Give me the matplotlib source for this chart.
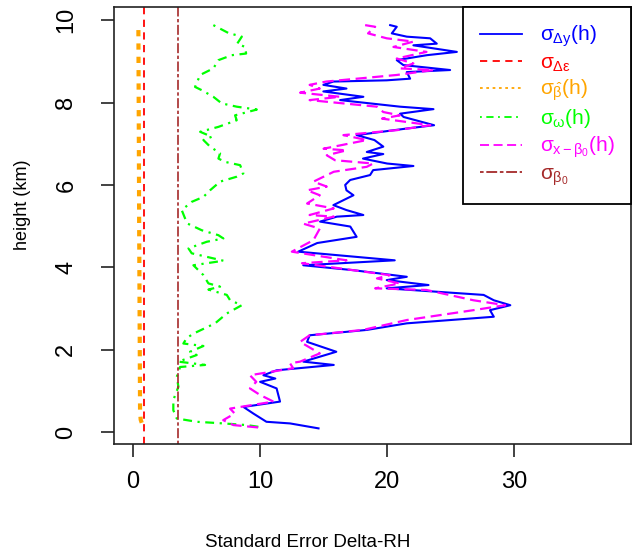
import numpy as np
import matplotlib
matplotlib.use("Agg")
from matplotlib import pyplot as plt
from matplotlib.lines import Line2D

plt.rcParams['font.family'] = ['Liberation Sans', 'DejaVu Sans']
plt.rcParams['mathtext.fontset'] = 'custom'
plt.rcParams['mathtext.rm'] = 'Liberation Sans'
plt.rcParams['mathtext.it'] = 'Liberation Sans'
plt.rcParams['mathtext.bf'] = 'Liberation Sans:bold'

# sigma_dy(h) -- blue solid
h_dy = [9.88, 9.84, 9.68, 9.60, 9.56, 9.43, 9.39, 9.23, 9.15, 9.03, 8.91, 8.79, 8.74,
        8.58, 8.54, 8.51, 8.43, 8.34, 8.27, 8.14, 8.06, 7.90, 7.84, 7.73, 7.65, 7.45,
        7.37, 7.21, 7.09, 6.93, 6.80, 6.75, 6.64, 6.52, 6.46, 6.36, 6.24, 6.12, 6.00,
        5.87, 5.75, 5.63, 5.51, 5.39, 5.27, 5.23, 5.11, 4.99, 4.74, 4.59, 4.38, 4.17,
        4.05, 3.93, 3.77, 3.69, 3.57, 3.49, 3.33, 3.20, 3.08, 2.96, 2.80, 2.64, 2.48,
        2.35, 2.19, 1.95, 1.71, 1.63, 1.50, 1.38, 1.30, 1.22, 1.06, 0.74, 0.61, 0.45,
        0.25, 0.21, 0.09]
x_dy = [20.24, 20.76, 20.37, 21.55, 23.39, 23.91, 22.07, 25.49, 23.12, 20.76, 21.28, 24.96, 21.55,
        21.81, 19.97, 15.77, 14.98, 16.80, 14.98, 18.13, 16.30, 21.02, 23.65, 21.02, 21.30, 23.70,
        21.55, 17.60, 19.00, 19.70, 18.40, 19.70, 18.10, 20.00, 22.07, 18.90, 18.66, 17.09, 16.70,
        16.80, 17.35, 16.56, 15.77, 16.80, 18.13, 16.04, 14.72, 17.10, 17.60, 14.50, 13.00, 20.60,
        13.40, 17.35, 21.55, 19.97, 23.26, 19.97, 27.60, 28.40, 29.70, 28.10, 28.40, 21.55, 18.40,
        13.90, 13.70, 16.00, 13.40, 15.80, 11.30, 10.26, 11.20, 10.00, 11.30, 11.57, 8.69, 9.47,
        10.50, 12.36, 14.60]

# sigma_{x-beta0}(h) -- magenta long dash
h_xb = [9.88, 9.84, 9.68, 9.56, 9.48, 9.35, 9.23, 9.07, 8.95, 8.83, 8.79, 8.67, 8.51,
        8.43, 8.34, 8.24, 8.14, 8.06, 7.90, 7.77, 7.69, 7.61, 7.45, 7.33, 7.21, 7.09,
        6.88, 6.84, 6.72, 6.60, 6.52, 6.44, 6.32, 6.20, 6.08, 5.96, 5.87, 5.75, 5.55,
        5.43, 5.27, 5.23, 5.06, 4.94, 4.66, 4.38, 4.17, 4.10, 3.81, 3.73, 3.61, 3.49,
        3.45, 3.20, 3.08, 2.96, 2.72, 2.48, 2.35, 2.19, 1.91, 1.71, 1.67, 1.55, 1.38,
        1.22, 1.06, 0.90, 0.74, 0.57, 0.45, 0.29, 0.17, 0.10]
x_xb = [18.27, 19.06, 18.50, 19.97, 22.07, 20.50, 23.10, 20.76, 22.07, 21.00, 23.65, 20.76, 15.20,
        13.90, 14.70, 13.15, 16.30, 13.90, 19.20, 19.70, 21.00, 19.60, 23.40, 20.76, 16.56, 18.40,
        15.00, 16.80, 15.25, 15.90, 18.90, 18.40, 15.80, 15.00, 14.20, 15.25, 13.70, 14.70, 13.70,
        15.80, 13.90, 15.80, 13.40, 14.70, 14.20, 12.50, 16.80, 13.30, 20.20, 19.20, 21.00, 19.06,
        23.10, 26.80, 29.30, 26.80, 21.55, 18.10, 13.90, 13.15, 14.70, 13.15, 12.36, 12.60, 9.20,
        9.70, 9.20, 10.00, 11.05, 7.64, 8.00, 7.10, 7.90, 10.26]

# sigma_omega(h) -- green dot-dash
h_om = [9.88, 9.69, 9.60, 9.43, 9.35, 9.19, 9.15, 9.03, 8.83, 8.67, 8.38, 8.30, 8.14,
        7.98, 7.90, 7.83, 7.69, 7.57, 7.41, 7.29, 7.17, 7.09, 6.93, 6.77, 6.64, 6.56,
        6.48, 6.28, 6.20, 6.08, 5.87, 5.71, 5.59, 5.39, 5.19, 5.06, 4.90, 4.78, 4.70,
        4.62, 4.46, 4.34, 4.16, 4.05, 3.81, 3.61, 3.53, 3.46, 3.33, 3.20, 3.08, 2.88,
        2.64, 2.39, 2.28, 2.15, 2.09, 1.95, 1.87, 1.71, 1.63, 1.58, 1.34, 1.10, 0.78,
        0.53, 0.33, 0.25, 0.21, 0.17, 0.11]
x_om = [6.32, 7.50, 8.56, 8.20, 8.82, 8.90, 7.77, 6.72, 6.32, 5.28, 4.88, 5.41, 6.32,
        6.98, 8.16, 9.74, 8.03, 8.16, 6.72, 5.28, 6.20, 5.54, 6.06, 6.85, 6.72, 7.24,
        8.43, 8.68, 8.16, 6.85, 6.06, 5.54, 4.62, 3.83, 4.09, 4.30, 5.41, 6.72, 7.11,
        5.80, 4.36, 4.62, 7.11, 4.75, 5.54, 5.93, 6.85, 5.93, 7.38, 7.64, 8.56, 7.38,
        6.46, 4.75, 4.22, 3.96, 5.54, 4.49, 5.01, 3.57, 5.67, 3.70, 3.44, 3.57, 3.17,
        3.17, 3.44, 5.01, 7.11, 8.95, 10.26]

# sigma_beta-hat(h) -- orange dotted
h_bh = [9.76, 7.5, 5.0, 2.5, 0.5, 0.30, 0.12]
x_bh = [0.42, 0.45, 0.48, 0.52, 0.55, 0.60, 0.80]

# constant terms
sig_de = 0.9
sig_b0 = 3.5

labels = [r'$\sigma_{\Delta y}(\mathrm{h})$', r'$\sigma_{\Delta\varepsilon}$',
          r'$\sigma_{\hat{\beta}}(\mathrm{h})$', r'$\sigma_{\omega}(\mathrm{h})$',
          r'$\sigma_{x-\beta_0}(\mathrm{h})$', r'$\sigma_{\beta_0}$']
colors = ['#0000FF', '#FF0000', '#FFA500', '#00FF00', '#FF00FF', '#A52A2A']
styles = ['-', (0, (4, 3)), (0, (1.5, 2)), (0, (1, 2.5, 4, 2.5)), (0, (5, 2.5)), (0, (2, 1.5, 6, 1.5))]

fig = plt.figure(figsize=(6.32, 5.56), dpi=100)
ax = fig.add_axes([0.1804, 0.2014, 0.818, 0.786])

ax.plot(x_dy, h_dy, color=colors[0], lw=1.5, ls=styles[0])
ax.axvline(sig_de, color=colors[1], lw=1.3, ls=styles[1])
ax.plot(x_bh, h_bh, color=colors[2], lw=3, ls=(0, (1.5, 1.7)))
ax.plot(x_om, h_om, color=colors[3], lw=1.6, ls=styles[3])
ax.plot(x_xb, h_xb, color=colors[4], lw=1.6, ls=styles[4])
ax.axvline(sig_b0, color=colors[5], lw=1.2, ls=styles[5])

ax.set_xlim(-1.5, 39.2)
ax.set_ylim(-0.29, 10.32)
ax.set_xticks([0, 10, 20, 30])
ax.set_yticks([0, 2, 4, 6, 8, 10])
ax.tick_params(axis='both', length=9.4, width=1.2, labelsize=17, color='#222222')
ax.tick_params(axis='x', pad=10)
ax.tick_params(axis='y', pad=17)
for lab in ax.get_yticklabels():
    lab.set_rotation(90)
    lab.set_va('center')
for s in ax.spines.values():
    s.set_linewidth(1.2)
    s.set_color('#222222')

ax.set_xlabel('Standard Error Delta-RH', fontsize=13.5)
ax.set_ylabel('height (km)', fontsize=13)
ax.xaxis.set_label_coords(0.375, -0.205)
ax.yaxis.set_label_coords(-0.16, 0.547)

handles = [Line2D([], [], color=c, lw=1.3, ls=s) for c, s in zip(colors, styles)]
leg = ax.legend(handles, labels, loc='upper right', borderaxespad=0, fontsize=15,
                handlelength=2.0, handletextpad=0.85, borderpad=0.8, labelspacing=0.2,
                fancybox=False, framealpha=1, edgecolor='black', labelcolor=colors)
leg.get_frame().set_linewidth(1.3)

fig.savefig('out.png', dpi=100)
